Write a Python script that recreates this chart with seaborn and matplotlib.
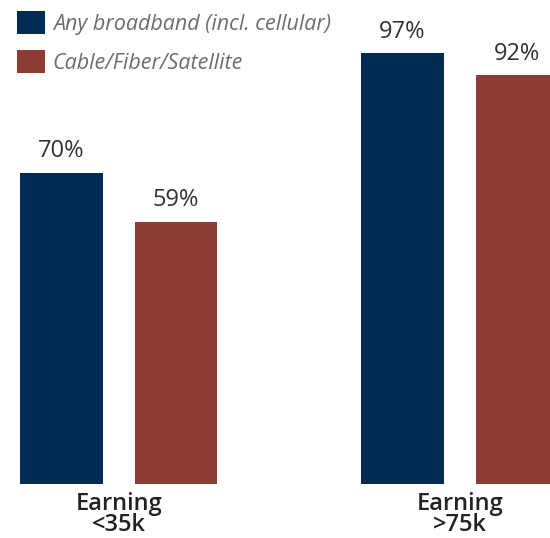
import pandas as pd
import matplotlib.pyplot as plt
import seaborn as sns

groups = ["Earning\n<35k", "Earning\n>75k"]
series = ["Any broadband (incl. cellular)", "Cable/Fiber/Satellite"]
any_broadband = [70, 97]
cable_fiber = [59, 92]
colors = ["#022b54", "#8e3d34"]

df = pd.DataFrame({
    "group": groups * 2,
    "series": [series[0]] * 2 + [series[1]] * 2,
    "value": any_broadband + cable_fiber,
})

sns.set_theme(style="white")
plt.rcParams["font.family"] = ["Open Sans", "DejaVu Sans"]

fig = plt.figure(figsize=(5.5, 5.38), dpi=100)
ax = fig.add_axes([0, 54 / 538, 1, 484 / 538])

sns.barplot(data=df, x="group", y="value", hue="series", palette=colors,
            width=0.67, gap=0.28, saturation=1, linewidth=0, ax=ax)

for cont in ax.containers:
    ax.bar_label(cont, fmt="%d%%", padding=7, fontsize=17, color="#333333")

ax.set_xlim(-0.348, 1.265)
ax.set_ylim(0, 109)
ax.set_xlabel("")
ax.set_ylabel("")
ax.set_yticks([])
ax.tick_params(axis="x", length=0, pad=6)
for lbl in ax.get_xticklabels():
    lbl.set_fontsize(17)
    lbl.set_fontweight("semibold")
    lbl.set_color("#222222")
    lbl.set_linespacing(0.82)
sns.despine(ax=ax, left=True, bottom=True)

ax.legend(loc="upper left", bbox_to_anchor=(17 / 550, 1 - 11 / 538),
          bbox_transform=fig.transFigure, frameon=False,
          prop={"family": "Open Sans", "style": "italic", "size": 15.5},
          labelcolor="#6d6d6d", handlelength=1.3, handleheight=1.3,
          labelspacing=0.7, handletextpad=0.36, borderpad=0, borderaxespad=0)

fig.savefig("out.png", dpi=100)
